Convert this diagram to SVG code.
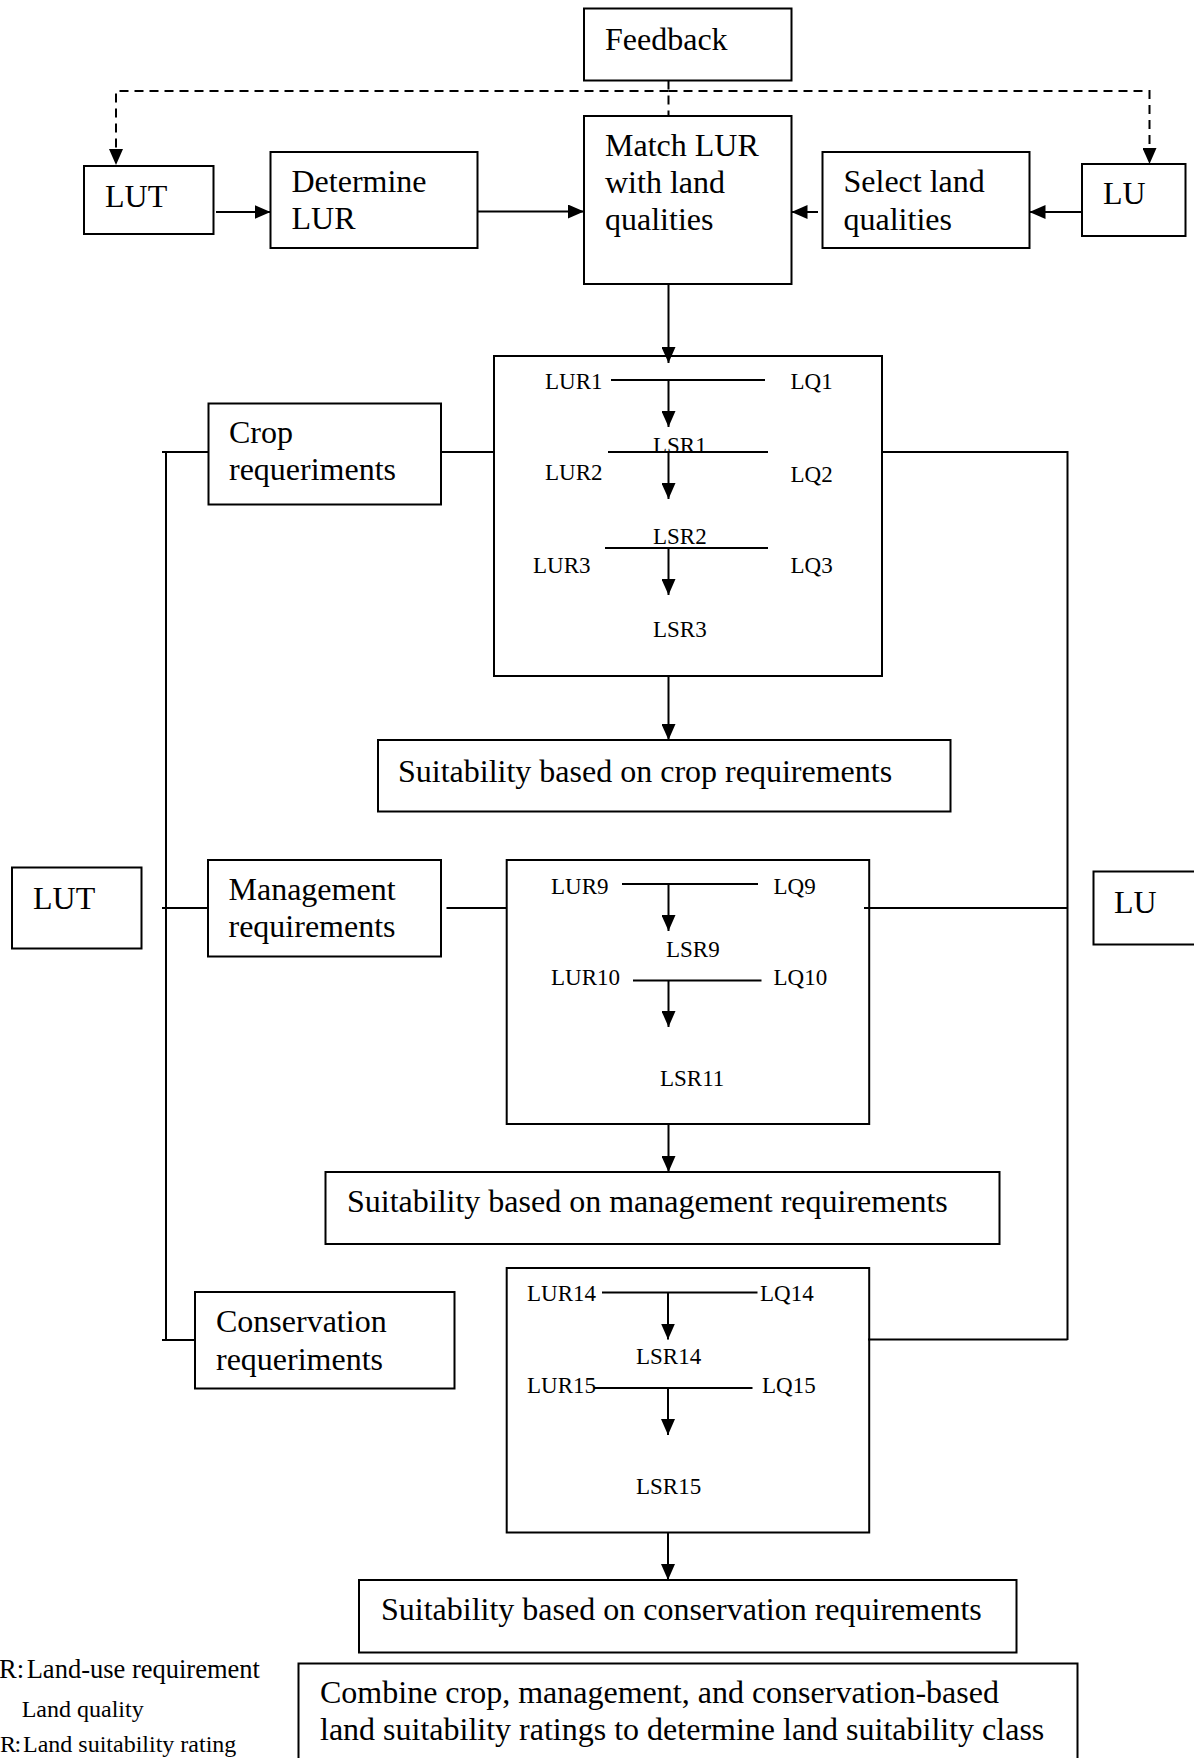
<svg xmlns="http://www.w3.org/2000/svg" width="1194" height="1758" viewBox="0 0 1194 1758">
<style>
  .box { fill: #ffffff; stroke: #000000; stroke-width: 2; }
  .t { font-family: "Liberation Serif", "Times New Roman", serif; font-size: 32px; fill: #000000; }
  .s { font-family: "Liberation Serif", "Times New Roman", serif; font-size: 23px; fill: #000000; }
  .lg1 { font-family: "Liberation Serif", "Times New Roman", serif; font-size: 26.5px; fill: #000000; }
  .lg2 { font-family: "Liberation Serif", "Times New Roman", serif; font-size: 24px; fill: #000000; }
  .ln { stroke: #000000; stroke-width: 2; fill: none; }
  .arr { marker-end: url(#ah); }
  .dash { stroke-dasharray: 9 6; }
</style>
<defs>
  <marker id="ah" markerWidth="16" markerHeight="14" refX="16" refY="7" orient="auto" markerUnits="userSpaceOnUse">
    <path d="M0,0 L16,7 L0,14 z" fill="#000000"/>
  </marker>
</defs>
<rect width="1194" height="1758" fill="#ffffff"/>

<g id="nodes">
  <g id="feedback">
    <rect class="box" x="584" y="8.5" width="207.5" height="72"/>
    <text class="t" x="605" y="50">Feedback</text>
  </g>
  <g id="lut-top">
    <rect class="box" x="84" y="166" width="129.5" height="68"/>
    <text class="t" x="105" y="207">LUT</text>
  </g>
  <g id="determine-lur">
    <rect class="box" x="270.5" y="152" width="207" height="96"/>
    <text class="t" x="291.5" y="191.5">Determine</text>
    <text class="t" x="291.5" y="229">LUR</text>
  </g>
  <g id="match">
    <rect class="box" x="584" y="116" width="207.5" height="168"/>
    <text class="t" x="605" y="156">Match LUR</text>
    <text class="t" x="605" y="193">with land</text>
    <text class="t" x="605" y="230">qualities</text>
  </g>
  <g id="select-lq">
    <rect class="box" x="822.5" y="152" width="207" height="96"/>
    <text class="t" x="843.5" y="191.5">Select land</text>
    <text class="t" x="843.5" y="229.5">qualities</text>
  </g>
  <g id="lu-top">
    <rect class="box" x="1082" y="164" width="103.5" height="72"/>
    <text class="t" x="1103" y="204">LU</text>
  </g>

  <g id="crop-req">
    <rect class="box" x="208.5" y="403.5" width="232.5" height="101"/>
    <text class="t" x="229" y="442.5">Crop</text>
    <text class="t" x="229" y="480">requeriments</text>
  </g>
  <g id="match-crop">
    <rect class="box" x="494" y="356" width="388" height="320"/>
    <text class="s" x="545" y="389">LUR1</text>
    <text class="s" x="790.5" y="389">LQ1</text>
    <text class="s" x="653" y="453">LSR1</text>
    <text class="s" x="545" y="480">LUR2</text>
    <text class="s" x="790.5" y="481.5">LQ2</text>
    <text class="s" x="653" y="544">LSR2</text>
    <text class="s" x="533" y="573">LUR3</text>
    <text class="s" x="790.5" y="573">LQ3</text>
    <text class="s" x="653" y="636.5">LSR3</text>
  </g>
  <g id="suit-crop">
    <rect class="box" x="378" y="740" width="572.5" height="71.5"/>
    <text class="t" x="398" y="782">Suitability based on crop requirements</text>
  </g>

  <g id="lut-left">
    <rect class="box" x="12" y="867.5" width="129.5" height="81"/>
    <text class="t" x="33" y="909">LUT</text>
  </g>
  <g id="mgmt-req">
    <rect class="box" x="208" y="860" width="233" height="96.5"/>
    <text class="t" x="228.5" y="899.5">Management</text>
    <text class="t" x="228.5" y="937">requirements</text>
  </g>
  <g id="match-mgmt">
    <rect class="box" x="506.7" y="860" width="362.5" height="264"/>
    <text class="s" x="551" y="894">LUR9</text>
    <text class="s" x="773.5" y="894">LQ9</text>
    <text class="s" x="666" y="956.5">LSR9</text>
    <text class="s" x="551" y="985">LUR10</text>
    <text class="s" x="773.5" y="985">LQ10</text>
    <text class="s" x="660" y="1086">LSR11</text>
  </g>
  <g id="lu-right">
    <rect class="box" x="1093.5" y="871.5" width="110" height="73"/>
    <text class="t" x="1114" y="913">LU</text>
  </g>
  <g id="suit-mgmt">
    <rect class="box" x="325.5" y="1172" width="674" height="72"/>
    <text class="t" x="347" y="1212">Suitability based on management requirements</text>
  </g>

  <g id="cons-req">
    <rect class="box" x="195" y="1292" width="259.5" height="96.5"/>
    <text class="t" x="216" y="1332">Conservation</text>
    <text class="t" x="216" y="1369.5">requeriments</text>
  </g>
  <g id="match-cons">
    <rect class="box" x="506.7" y="1268" width="362.5" height="264.5"/>
    <text class="s" x="527" y="1300.5">LUR14</text>
    <text class="s" x="760" y="1300.5">LQ14</text>
    <text class="s" x="636" y="1364">LSR14</text>
    <text class="s" x="527" y="1392.5">LUR15</text>
    <text class="s" x="762" y="1392.5">LQ15</text>
    <text class="s" x="636" y="1493.5">LSR15</text>
  </g>
  <g id="suit-cons">
    <rect class="box" x="359" y="1580" width="657.5" height="72.5"/>
    <text class="t" x="381" y="1620">Suitability based on conservation requirements</text>
  </g>
  <g id="combine">
    <rect class="box" x="298.5" y="1663.5" width="779" height="110"/>
    <text class="t" x="320" y="1703">Combine crop, management, and conservation-based</text>
    <text class="t" x="320" y="1740">land suitability ratings to determine land suitability class</text>
  </g>

  <g id="legend">
    <text class="lg1" y="1677.5"><tspan x="-1">R:</tspan><tspan x="26.7">Land-use requirement</tspan></text>
    <text class="lg2" x="21.7" y="1716.5">Land quality</text>
    <text class="lg2" y="1752"><tspan x="0">R</tspan><tspan x="14.5">:</tspan><tspan x="23">Land suitability rating</tspan></text>
  </g>
</g>

<g id="connectors">
  <!-- feedback dashed -->
  <path class="ln dash" d="M668.5,80.5 L668.5,116"/>
  <path class="ln dash arr" d="M668.5,91 L116,91 L116,165"/>
  <path class="ln dash arr" d="M668.5,91 L1149.5,91 L1149.5,164"/>

  <!-- top row arrows -->
  <path class="ln arr" d="M216,212 L270.5,212"/>
  <path class="ln arr" d="M477.5,211.5 L584,211.5"/>
  <path class="ln arr" d="M818,212 L791.5,212"/>
  <path class="ln arr" d="M1082,212 L1029.5,212"/>
  <path class="ln arr" d="M668.5,284 L668.5,363"/>

  <!-- left bus (LUT) -->
  <path class="ln" d="M166,452 L166,1340"/>
  <path class="ln" d="M162,452 L208.5,452"/>
  <path class="ln" d="M162,908 L208,908"/>
  <path class="ln" d="M162,1340 L195,1340"/>

  <!-- requirement boxes to matching boxes -->
  <path class="ln" d="M440,452 L494,452"/>
  <path class="ln" d="M446.5,908 L506.7,908"/>

  <!-- right bus (LU) -->
  <path class="ln" d="M882,452 L1067.5,452 L1067.5,1340"/>
  <path class="ln" d="M864,908 L1067.5,908"/>
  <path class="ln" d="M868,1339.5 L1067.5,1339.5"/>

  <!-- match-crop internals -->
  <path class="ln" d="M611,380 L765,380"/>
  <path class="ln arr" d="M668.5,380 L668.5,427"/>
  <path class="ln" d="M608,452 L768,452"/>
  <path class="ln arr" d="M668.5,452 L668.5,499"/>
  <path class="ln" d="M605,548 L768,548"/>
  <path class="ln arr" d="M668.5,548 L668.5,595"/>
  <path class="ln arr" d="M668.5,676 L668.5,740"/>

  <!-- match-mgmt internals -->
  <path class="ln" d="M622,884 L758,884"/>
  <path class="ln arr" d="M668.5,884 L668.5,931"/>
  <path class="ln" d="M633,980.5 L761.5,980.5"/>
  <path class="ln arr" d="M668.5,980.5 L668.5,1027"/>
  <path class="ln arr" d="M668.5,1124 L668.5,1172"/>

  <!-- match-cons internals -->
  <path class="ln" d="M602,1292.5 L757.5,1292.5"/>
  <path class="ln arr" d="M668,1292.5 L668,1339.5"/>
  <path class="ln" d="M594,1388 L752.5,1388"/>
  <path class="ln arr" d="M668,1388 L668,1435"/>
  <path class="ln arr" d="M668,1532.5 L668,1580"/>
</g>
</svg>
